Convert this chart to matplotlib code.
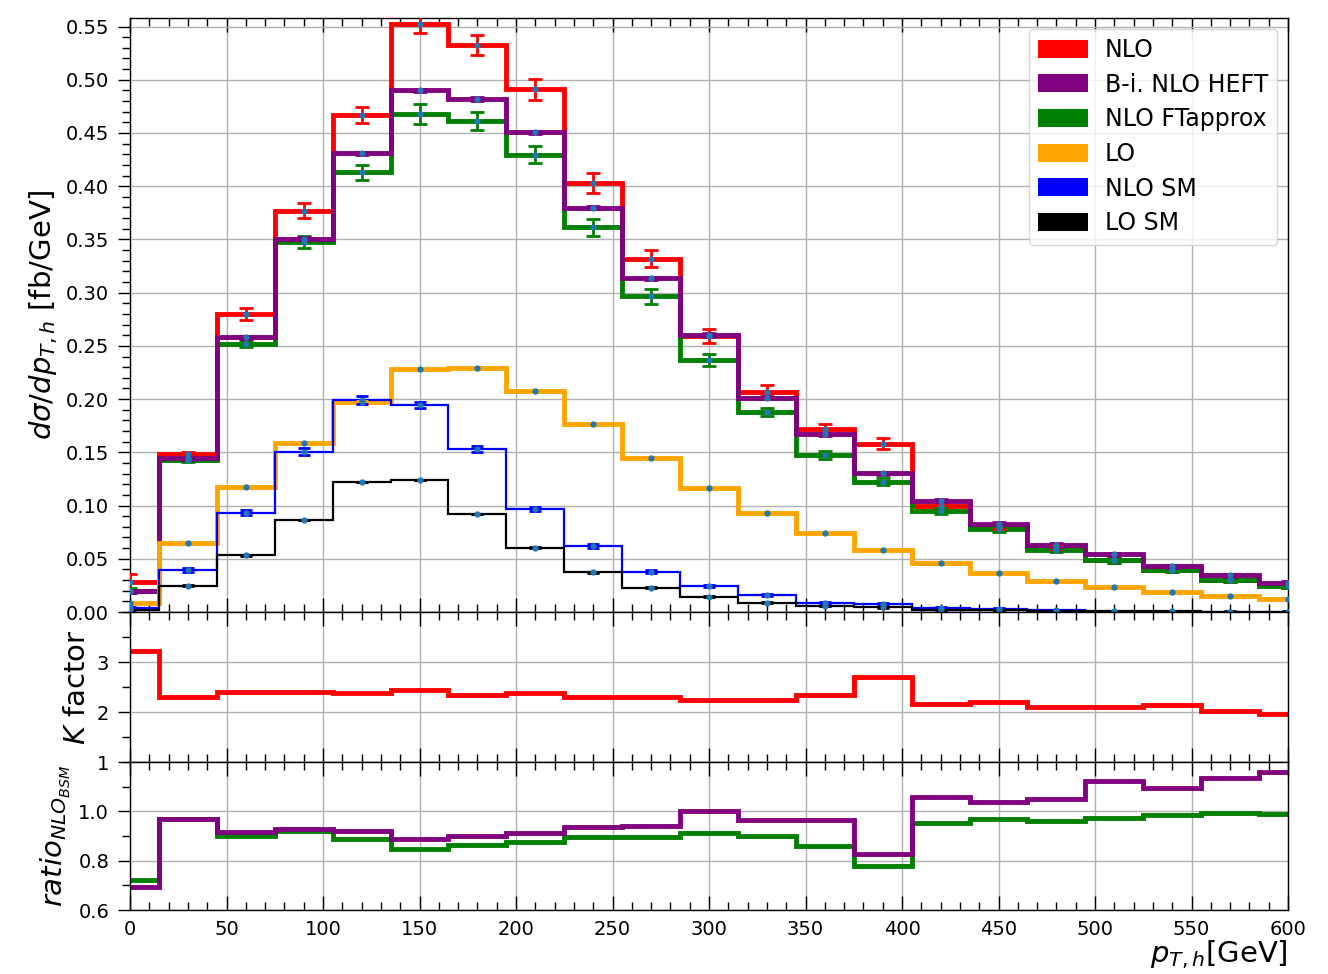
import numpy as np
import matplotlib
matplotlib.use("Agg")
import matplotlib.pyplot as plt
from matplotlib.lines import Line2D
from matplotlib.ticker import MultipleLocator, FormatStrFormatter

# ---------------- data ----------------
pt_centers = [0, 30, 60, 90, 120, 150, 180, 210, 240, 270, 300,
              330, 360, 390, 420, 450, 480, 510, 540, 570, 600]
bin_half_width = 15

nlo = [0.028, 0.148, 0.280, 0.377, 0.467, 0.552, 0.533, 0.491, 0.403, 0.332, 0.259,
       0.207, 0.172, 0.158, 0.0995, 0.080, 0.060, 0.0485, 0.0395, 0.0305, 0.0242]
nlo_err = [0.008, 0.002, 0.0056, 0.0073, 0.0078, 0.0082, 0.0094, 0.0099, 0.009, 0.008, 0.0067,
           0.0058, 0.005, 0.0053, 0.002, 0.002, 0.002, 0.002, 0.002, 0.002, 0.002]

heft = [0.0195, 0.1444, 0.258, 0.3505, 0.431, 0.490, 0.482, 0.4505, 0.3797, 0.3133, 0.2603,
        0.2014, 0.167, 0.1303, 0.1044, 0.0830, 0.0629, 0.0541, 0.0431, 0.0346, 0.0277]
heft_err = [0.0015] * 21

ftapprox = [0.0201, 0.1429, 0.2519, 0.3474, 0.4129, 0.4677, 0.4615, 0.4295, 0.3612, 0.2964, 0.2368,
            0.1877, 0.1476, 0.1225, 0.095, 0.0783, 0.0582, 0.0484, 0.0393, 0.0299, 0.0242]
ftapprox_err = [0.002, 0.002, 0.003, 0.0055, 0.0074, 0.0097, 0.0086, 0.008, 0.008, 0.0066, 0.006,
                0.004, 0.004, 0.003, 0.003, 0.003, 0.002, 0.002, 0.002, 0.002, 0.002]

lo = [0.0087, 0.0645, 0.1172, 0.1585, 0.1977, 0.2281, 0.2296, 0.2077, 0.1764, 0.145, 0.1162,
      0.0934, 0.074, 0.0578, 0.0458, 0.0364, 0.029, 0.0235, 0.0188, 0.015, 0.0124]
lo_err = [0.0004] * 21

nlo_sm = [0.004, 0.0395, 0.0933, 0.1507, 0.1990, 0.1945, 0.1532, 0.0965, 0.062, 0.0379, 0.0244,
          0.016, 0.0088, 0.0072, 0.0038, 0.0031, 0.0016, 0.0003, 0.0003, 0.0002, 0.0002]
nlo_sm_err = [0.001, 0.0015, 0.0025, 0.003, 0.004, 0.003, 0.0025, 0.002, 0.0015, 0.0012, 0.001,
              0.001, 0.001, 0.001, 0.0008, 0.0008, 0.0005, 0.0003, 0.0003, 0.0002, 0.0002]

lo_sm = [0.002, 0.0247, 0.0533, 0.0865, 0.1222, 0.124, 0.0921, 0.0605, 0.0373, 0.0229, 0.0144,
         0.0088, 0.0056, 0.0044, 0.002, 0.0015, 0.001, 0.0006, 0.0005, 0.0004, 0.0003]
lo_sm_err = [0.0003] * 21

k_factor = [3.22, 2.31, 2.41, 2.395, 2.375, 2.434, 2.342, 2.375, 2.296, 2.309, 2.243,
            2.243, 2.342, 2.704, 2.151, 2.21, 2.099, 2.099, 2.145, 2.013, 1.967]

ratio_heft = [0.695, 0.970, 0.918, 0.928, 0.920, 0.888, 0.901, 0.914, 0.938, 0.941, 1.003,
              0.964, 0.964, 0.829, 1.058, 1.037, 1.049, 1.121, 1.096, 1.136, 1.158]
ratio_ft = [0.72, 0.967, 0.901, 0.921, 0.886, 0.849, 0.864, 0.875, 0.895, 0.895, 0.914,
            0.900, 0.858, 0.779, 0.954, 0.967, 0.961, 0.971, 0.987, 0.993, 0.989]

labels = ["NLO", "B-i. NLO HEFT", "NLO FTapprox", "LO", "NLO SM", "LO SM"]
colors = ["red", "purple", "green", "orange", "blue", "black"]

# ---------------- figure ----------------
x = np.array(pt_centers, dtype=float)
edges = np.append(x - bin_half_width, x[-1] + bin_half_width)

W, H = 1328, 974
fig = plt.figure(figsize=(W / 100, H / 100), dpi=100)
L, R = 130 / W, 1288 / W
def pos(top, bottom):
    return [L, 1 - bottom / H, R - L, (bottom - top) / H]

ax1 = fig.add_axes(pos(18, 612))
ax2 = fig.add_axes(pos(612, 762), sharex=ax1)
ax3 = fig.add_axes(pos(762, 910), sharex=ax1)

mk = dict(fmt='o', ms=3.5, color='#1f77b4', elinewidth=2, capthick=2, zorder=10)

# main panel
series = [
    (nlo, nlo_err, "red", 3.5, 5, 2),
    (ftapprox, ftapprox_err, "green", 3.5, 5, 3),
    (heft, heft_err, "purple", 3.5, 5, 4),
    (lo, lo_err, "orange", 3.5, 4, 5),
    (nlo_sm, nlo_sm_err, "blue", 1.6, 4, 6),
    (lo_sm, lo_sm_err, "black", 1.6, 4, 7),
]
for vals, errs, col, lw, cs, z in series:
    ax1.stairs(vals, edges, baseline=None, color=col, lw=lw, zorder=z)
for vals, errs, col, lw, cs, z in series:
    ax1.errorbar(x, vals, yerr=errs, ecolor=col, capsize=cs, **mk)

ax1.set_ylim(0, 0.558)
ax1.yaxis.set_major_locator(MultipleLocator(0.05))
ax1.yaxis.set_minor_locator(MultipleLocator(0.01))
ax1.yaxis.set_major_formatter(FormatStrFormatter('%.2f'))
ax1.set_ylabel(r'$d\sigma/dp_{T,h}$ [fb/GeV]', fontsize=21)

handles = [Line2D([], [], color=c, lw=13, solid_capstyle='butt') for c in colors]
ax1.legend(handles, labels, loc='upper right', fontsize=17, handlelength=2.1,
           handletextpad=0.7, labelspacing=0.45, borderaxespad=0.45)

# K factor panel
ax2.stairs(k_factor, edges, baseline=None, color='red', lw=3.5)
ax2.set_ylim(1, 4)
ax2.set_yticks([1, 2, 3])
ax2.yaxis.set_minor_locator(MultipleLocator(0.5))
ax2.set_ylabel(r'$K$ factor', fontsize=21)

# ratio panel
ax3.stairs(ratio_ft, edges, baseline=None, color='green', lw=3.5)
ax3.stairs(ratio_heft, edges, baseline=None, color='purple', lw=3.5)
ax3.set_ylim(0.6, 1.2)
ax3.set_yticks([0.6, 0.8, 1.0])
ax3.yaxis.set_major_formatter(FormatStrFormatter('%.1f'))
ax3.yaxis.set_minor_locator(MultipleLocator(0.1))
ax3.set_ylabel(r'$ratio_{NLO_{BSM}}$', fontsize=21)
ax3.set_xlabel(r'$p_{T,h}$[GeV]', fontsize=21, loc='right', labelpad=0)

ax1.set_xlim(0, 600)
ax1.xaxis.set_major_locator(MultipleLocator(50))
ax1.xaxis.set_minor_locator(MultipleLocator(10))

for ax in (ax1, ax2, ax3):
    ax.grid(True, which='major', color='#b0b0b0', lw=1)
    ax.set_axisbelow(True)
    ax.tick_params(axis='x', which='both', direction='in', top=True, bottom=True,
                   labelsize=14, pad=7)
    ax.tick_params(axis='x', which='major', length=10, width=1)
    ax.tick_params(axis='x', which='minor', length=6, width=1)
    ax.tick_params(axis='y', which='both', direction='out', left=True, right=False,
                   labelsize=14, pad=6)
    ax.tick_params(axis='y', which='major', length=9, width=1)
    ax.tick_params(axis='y', which='minor', length=6, width=1)
    for s in ax.spines.values():
        s.set_linewidth(1)
for ax in (ax1, ax2):
    ax.tick_params(labelbottom=False)

fig.savefig("out.png", dpi=100)
